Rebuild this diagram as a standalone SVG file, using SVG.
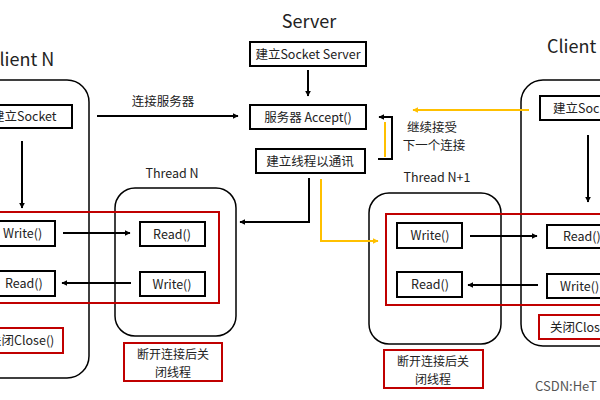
<svg xmlns="http://www.w3.org/2000/svg" width="600" height="400" viewBox="0 0 600 400">
<defs>
<marker id="ah" viewBox="0 0 10 10" refX="9" refY="5" markerWidth="6" markerHeight="6" orient="auto" markerUnits="userSpaceOnUse">
<path d="M0,0 L10,5 L0,10 z" fill="#000"/>
</marker>
<marker id="ahy" viewBox="0 0 10 10" refX="9" refY="5" markerWidth="6" markerHeight="6" orient="auto" markerUnits="userSpaceOnUse">
<path d="M0,0 L10,5 L0,10 z" fill="#FFC000"/>
</marker>
<style>
text{font-family:"Noto Sans CJK SC","Noto Sans",sans-serif;fill:#222}
.t{font-size:12.5px}
.s{font-size:12px}
.h{font-size:18px}
.c{text-anchor:middle}
.box{fill:#fff;stroke:#000;stroke-width:2}
.red{fill:none;stroke:#C00000;stroke-width:2}
.redf{fill:#fff;stroke:#C00000;stroke-width:2}
.cont{fill:#fff;stroke:#000;stroke-width:1.5}
.ln{fill:none;stroke:#000;stroke-width:2;marker-end:url(#ah)}
.yl{fill:none;stroke:#FFC000;stroke-width:2}
.yla{fill:none;stroke:#FFC000;stroke-width:2;marker-end:url(#ahy)}
</style>
</defs>
<rect width="600" height="400" fill="#fff"/>

<g id="clientN">
<text class="h" x="-12" y="66">Client N</text>
<rect class="cont" x="-40" y="80" width="129" height="298" rx="22"/>
</g>
<g id="threadN">
<text class="t c" x="172" y="178">Thread N</text>
<rect class="cont" x="115" y="188" width="121" height="148" rx="20"/>
</g>
<g id="threadN1">
<text class="t c" x="437" y="182">Thread N+1</text>
<rect class="cont" x="369" y="193" width="132" height="151" rx="20"/>
</g>
<g id="clientN1">
<text class="h" x="547" y="53">Client N+1</text>
<rect class="cont" x="521" y="80" width="129" height="266" rx="22"/>
</g>

<g id="redN">
<rect class="red" x="-20" y="212" width="239" height="91"/>
</g>
<g id="redN1">
<rect class="red" x="386" y="214" width="240" height="91"/>
</g>

<g id="server">
<text class="h c" x="309" y="28">Server</text>
</g>
<g id="socketServer">
<rect class="box" x="250" y="42" width="116" height="24"/>
<text class="t c" x="308" y="59">建立Socket Server</text>
</g>
<g id="accept">
<rect class="box" x="250" y="105" width="116" height="24"/>
<text class="t c" x="308" y="122">服务器 Accept()</text>
</g>
<g id="newThread">
<rect class="box" x="256" y="149" width="109" height="24"/>
<text class="t c" x="310" y="166">建立线程以通讯</text>
</g>

<g id="cSocketL">
<rect class="box" x="-30" y="105" width="102" height="23"/>
<text class="t" x="-8" y="121">建立Socket</text>
</g>
<g id="cWriteL">
<rect class="box" x="-30" y="221" width="85" height="25"/>
<text class="t" x="3" y="238">Write()</text>
</g>
<g id="cReadL">
<rect class="box" x="-30" y="271" width="85" height="25"/>
<text class="t" x="5" y="288">Read()</text>
</g>
<g id="cCloseL">
<rect class="redf" x="-30" y="328" width="93" height="25"/>
<text class="t" x="-11" y="345">关闭Close()</text>
</g>

<g id="tReadN">
<rect class="box" x="140" y="222" width="65" height="24"/>
<text class="t c" x="172" y="239">Read()</text>
</g>
<g id="tWriteN">
<rect class="box" x="140" y="272" width="65" height="24"/>
<text class="t c" x="172" y="289">Write()</text>
</g>
<g id="closeN">
<rect class="redf" x="124" y="343" width="98" height="38"/>
<text class="s c" x="173" y="359">断开连接后关</text>
<text class="s c" x="173" y="377">闭线程</text>
</g>

<g id="tWriteN1">
<rect class="box" x="397" y="223" width="65" height="25"/>
<text class="t c" x="430" y="240">Write()</text>
</g>
<g id="tReadN1">
<rect class="box" x="397" y="272" width="65" height="25"/>
<text class="t c" x="430" y="289">Read()</text>
</g>
<g id="closeN1">
<rect class="redf" x="384" y="350" width="99" height="38"/>
<text class="s c" x="433" y="366">断开连接后关</text>
<text class="s c" x="433" y="384">闭线程</text>
</g>

<g id="cSocketR">
<rect class="box" x="540" y="96" width="80" height="24"/>
<text class="t" x="553" y="113">建立Socket</text>
</g>
<g id="cReadR">
<rect class="box" x="547" y="225" width="73" height="23"/>
<text class="t" x="563" y="241">Read()</text>
</g>
<g id="cWriteR">
<rect class="box" x="547" y="274" width="73" height="24"/>
<text class="t" x="560" y="291">Write()</text>
</g>
<g id="cCloseR">
<rect class="redf" x="539" y="315" width="81" height="24"/>
<text class="t" x="550" y="332">关闭Close()</text>
</g>

<g id="connectors">
<line class="ln" x1="22" y1="141" x2="22" y2="208"/>
<line class="ln" x1="97" y1="116" x2="238" y2="116"/>
<text class="t c" x="163" y="106">连接服务器</text>
<line class="ln" x1="308" y1="70" x2="308" y2="96"/>
<polyline class="ln" points="378,159 392,159 392,117 379,117"/>
<line class="yl" x1="385" y1="122" x2="385" y2="157"/>
<line class="yla" x1="529" y1="110" x2="413" y2="110"/>
<text class="t c" x="432" y="132">继续接受</text>
<text class="t c" x="434" y="150">下一个连接</text>
<polyline class="ln" points="309,178 309,222 240,222"/>
<polyline class="yla" points="321,179 321,241 378,241"/>
<line class="ln" x1="63" y1="233" x2="130" y2="233"/>
<line class="ln" x1="131" y1="283" x2="62" y2="283"/>
<line class="ln" x1="470" y1="236" x2="537" y2="236"/>
<line class="ln" x1="538" y1="285" x2="468" y2="285"/>
<line class="ln" x1="588" y1="135" x2="588" y2="202"/>
</g>
<text x="535" y="391" style="font-size:13px;fill:#555">CSDN:HeT</text>
</svg>
